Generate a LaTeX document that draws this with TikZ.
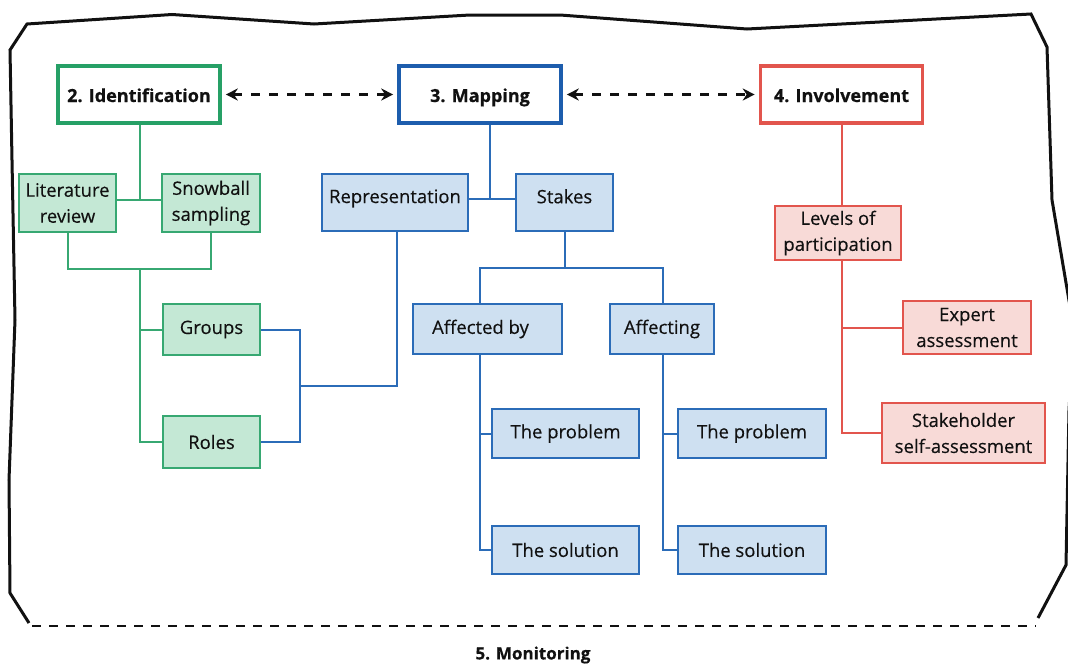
\documentclass[tikz,border=0pt]{standalone}
\usepackage{fontspec}
\setmainfont{Open Sans}[FakeBold=0.3]
\newfontfamily\headfont{Open Sans}[FakeBold=0.6]
\usetikzlibrary{arrows.meta,calc}

\definecolor{gLine}{HTML}{37A872}
\definecolor{gFill}{HTML}{C4E8D5}
\definecolor{gHead}{HTML}{26A066}
\definecolor{bLine}{HTML}{2B6CB8}
\definecolor{bFill}{HTML}{CEE0F1}
\definecolor{bHead}{HTML}{1D5DAD}
\definecolor{rLine}{HTML}{E2554D}
\definecolor{rFill}{HTML}{F8DAD7}
\definecolor{ink}{HTML}{111111}

\tikzset{
  box/.style={draw, line width=2pt, align=center, inner sep=0pt,
    text=ink, font=\fontsize{18.5}{26}\selectfont},
  gbox/.style={box, draw=gLine, fill=gFill},
  bbox/.style={box, draw=bLine, fill=bFill},
  rbox/.style={box, draw=rLine, fill=rFill},
  raised/.style={text depth=12.5pt},
  head/.style={draw, line width=3.6pt, fill=white, inner sep=0pt,
    minimum width=162, minimum height=57, text=ink,
    text height=18pt, text depth=3pt,
    font=\fontsize{18}{22}\selectfont\headfont\bfseries},
  gline/.style={draw=gLine, line width=2pt},
  bline/.style={draw=bLine, line width=2pt},
  rline/.style={draw=rLine, line width=2pt},
  darrow/.style={draw=ink, line width=2.8pt, dash pattern=on 9pt off 9pt,
    {Stealth[length=12pt,width=12pt]}-{Stealth[length=12pt,width=12pt]},
    shorten <=4pt, shorten >=4pt},
  frame/.style={draw=ink, line width=3pt, line join=miter},
  basedash/.style={draw=ink, line width=2.6pt, dash pattern=on 9pt off 8pt}
}

\begin{document}
\begin{tikzpicture}[x=1pt, y=-1pt]
\useasboundingbox (0,0) rectangle (1068,664);

% outer hand-drawn frame, open at the bottom
\draw[frame] (29,623) -- (10,593) -- (9,480) -- (15,320) -- (12,160)
  -- (10,50) -- (27,24) -- (172,14.5) -- (314,24) -- (470,15) -- (560,15)
  -- (747,29) -- (1031,14) -- (1047,47) -- (1052,200) -- (1074,330)
  -- (1069,410) -- (1066,565) -- (1038,618);
\coordinate (bl) at (32,626);
\coordinate (br) at (1036,626);
\draw[basedash] (bl) -- (br);
\node[font=\fontsize{17}{20}\selectfont\headfont\bfseries, text=ink] (monitor) at (533,655) {5. Monitoring};

% phase headers
\node[head, draw=gHead] (ident) at (139,94.5) {2. Identification};
\node[head, draw=bHead] (mapping) at (480,94.5) {3. Mapping};
\node[head, draw=rLine] (involve) at (841.5,94.5) {4. Involvement};
\draw[darrow] (ident) -- (mapping);
\draw[darrow] (mapping) -- (involve);

% identification branch
\node[gbox, minimum width=97, minimum height=58] (lit) at (67.5,203) {Literature\\review};
\node[gbox, minimum width=98, minimum height=58] (snow) at (211,203) {Snowball\\sampling};
\node[gbox, minimum width=97, minimum height=51] (groups) at (211.5,329.5) {Groups};
\node[gbox, minimum width=97, minimum height=52] (roles) at (211.5,442) {Roles};

\coordinate (gtop) at (140,200);
\coordinate (gmid) at (140,269);
\draw[gline] (ident.south -| gtop) -- (gtop);
\draw[gline] (lit.east |- gtop) -- (snow.west |- gtop);
\draw[gline] (lit.south) |- (gmid) -| (snow.south);
\draw[gline] (gmid) |- (roles.west);
\draw[gline] (gmid |- groups.west) -- (groups.west);

% mapping branch
\node[bbox, raised, minimum width=146, minimum height=57] (repr) at (395,202.5) {Representation};
\node[bbox, raised, minimum width=97, minimum height=57] (stakes) at (564.5,202.5) {Stakes};
\node[bbox, minimum width=149, minimum height=50] (affby) at (487.5,329) {Affected by\hspace*{14pt}};
\node[bbox, minimum width=104, minimum height=50] (affing) at (662,329) {Affecting};
\node[bbox, minimum width=147, minimum height=49] (prob1) at (565.5,433.5) {The problem};
\node[bbox, minimum width=147, minimum height=48] (sol1) at (565.5,550) {The solution};
\node[bbox, minimum width=148, minimum height=49] (prob2) at (752,433.5) {The problem};
\node[bbox, minimum width=148, minimum height=48] (sol2) at (752,550) {The solution};

\coordinate (mtop) at (490,199);
\draw[bline] (mapping.south -| mtop) -- (mtop);
\draw[bline] (repr.east |- mtop) -- (stakes.west |- mtop);
\coordinate (stk) at (564.5,268);
\coordinate (ax) at (480,0);
\coordinate (bx) at (663,0);
\draw[bline] (stakes.south) -- (stk);
\draw[bline] (affby.north -| ax) |- (stk) -| (affing.north -| bx);
\draw[bline] (affby.south -| ax) |- (sol1.west);
\draw[bline] (prob1.west -| ax) -- (prob1.west);
\draw[bline] (affing.south -| bx) |- (sol2.west);
\draw[bline] (prob2.west -| bx) -- (prob2.west);

% groups and roles feed representation
\coordinate (gr) at (300,386);
\draw[bline] (groups.east) -| (gr) |- (roles.east);
\draw[bline] (gr) -| (repr.south -| 397,0);

% involvement branch
\node[rbox, minimum width=126, minimum height=54] (levels) at (838,233) {Levels of\\participation};
\node[rbox, minimum width=128, minimum height=53] (expert) at (967,327.5) {Expert\\assessment};
\node[rbox, minimum width=163, minimum height=60] (stakeh) at (963.5,433) {Stakeholder\\self-assessment};

\coordinate (rx) at (842,0);
\draw[rline] (involve.south -| rx) -- (levels.north -| rx);
\draw[rline] (levels.south -| rx) |- (stakeh.west);
\draw[rline] (expert.west -| rx) -- (expert.west);
\end{tikzpicture}
\end{document}
